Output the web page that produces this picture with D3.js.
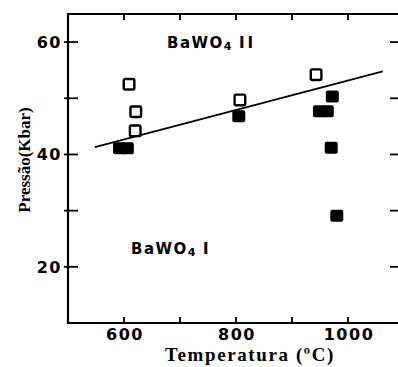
<!DOCTYPE html>
<html>
<head>
<meta charset="utf-8">
<script src="https://cdn.jsdelivr.net/npm/d3@7"></script>
<style>
  body { margin: 0; background: #fff; }
  svg { display: block; }
</style>
</head>
<body>
<svg id="chart" width="398" height="367"></svg>
<script>
// valores
var xTicks = [600, 700, 800, 900, 1000]
var xTickLabels = [600, 800, 1000]
var yTicks = [20, 30, 40, 50, 60]
var yTickLabels = [20, 40, 60]

// BaWO4 II (quadrados abertos)
var openT = [609, 621, 620, 807, 943]
var openP = [52.5, 47.6, 44.2, 49.7, 54.2]
// BaWO4 I (quadrados cheios)
var fillT = [592, 606, 805, 949, 963, 972, 970, 980]
var fillP = [41.1, 41.1, 46.8, 47.7, 47.7, 50.3, 41.2, 29.1]
// linha de fronteira
var lineT = [548, 1062]
var lineP = [41.3, 54.8]

var svg = d3.select('#chart')
var x = d3.scaleLinear().domain([500, 1100]).range([68, 404])
var y = d3.scaleLinear().domain([10, 65]).range([323, 14])

var numFont = '"DejaVu Sans", sans-serif'
var serif = '"Liberation Serif", "Times New Roman", serif'

// moldura
svg.append('path')
  .attr('d', 'M' + x(1100) + ',' + y(65) + 'H' + x(500) + 'V' + y(10) + 'H' + x(1100))
  .attr('fill', 'none').attr('stroke', '#000').attr('stroke-width', 2.2)

// ticks
var tk = svg.append('g').attr('stroke', '#000').attr('stroke-width', 1.8)
xTicks.forEach(function(t) {
  tk.append('line').attr('x1', x(t)).attr('x2', x(t)).attr('y1', y(10)).attr('y2', y(10) - 6)
  tk.append('line').attr('x1', x(t)).attr('x2', x(t)).attr('y1', y(65)).attr('y2', y(65) + 6)
})
yTicks.forEach(function(t) {
  tk.append('line').attr('x1', x(500) - 4).attr('x2', x(500) + 10).attr('y1', y(t)).attr('y2', y(t))
  tk.append('line').attr('x1', x(1100)).attr('x2', x(1100) - 14).attr('y1', y(t)).attr('y2', y(t))
})

svg.selectAll('.xl').data(xTickLabels).enter().append('text')
  .attr('x', function(d) { return x(d) + 1 }).attr('y', 340)
  .attr('text-anchor', 'middle')
  .style('font', 'bold 16px ' + numFont).style('letter-spacing', '1.5px')
  .text(function(d) { return d })

svg.selectAll('.yl').data(yTickLabels).enter().append('text')
  .attr('x', 62).attr('y', function(d) { return y(d) + 6 })
  .attr('text-anchor', 'end')
  .style('font', 'bold 16px ' + numFont).style('letter-spacing', '1.5px')
  .text(function(d) { return d })

// linha
svg.append('line')
  .attr('x1', x(lineT[0])).attr('y1', y(lineP[0]))
  .attr('x2', x(lineT[1])).attr('y2', y(lineP[1]))
  .attr('stroke', '#000').attr('stroke-width', 1.8)

// marcadores
var s = 13
svg.selectAll('.open').data(d3.range(openT.length)).enter().append('rect')
  .attr('x', function(i) { return x(openT[i]) - s / 2 + 1.2 })
  .attr('y', function(i) { return y(openP[i]) - s / 2 + 1.2 })
  .attr('width', s - 2.4).attr('height', s - 2.4).attr('rx', 1.5)
  .attr('fill', 'none').attr('stroke', '#000').attr('stroke-width', 2.4)

svg.selectAll('.fill').data(d3.range(fillT.length)).enter().append('rect')
  .attr('x', function(i) { return x(fillT[i]) - s / 2 })
  .attr('y', function(i) { return y(fillP[i]) - 6 })
  .attr('width', s).attr('height', 12).attr('rx', 2)
  .attr('fill', '#000')

// rótulos das fases
function phase(xp, yp, roman) {
  var t = svg.append('text').attr('x', xp).attr('y', yp)
    .style('font', 'bold 15px ' + numFont).style('letter-spacing', '1.5px')
  t.append('tspan').text('BaWO')
  t.append('tspan').attr('dy', 2).style('font-size', '11px').text('4')
  t.append('tspan').attr('dy', -2).attr('dx', 6).style('letter-spacing', '3px').text(roman)
}
phase(167, 48, 'II')
phase(131, 254, 'I')

// títulos dos eixos
svg.append('text')
  .attr('x', 250).attr('y', 361).attr('text-anchor', 'middle')
  .style('font', 'bold 19px ' + serif).style('letter-spacing', '1.6px')
  .text('Temperatura (ºC)')

svg.append('text')
  .attr('transform', 'translate(30,160) rotate(-90)')
  .attr('text-anchor', 'middle')
  .style('font', 'bold 17px ' + serif)
  .text('Pressão(Kbar)')
</script>
</body>
</html>
